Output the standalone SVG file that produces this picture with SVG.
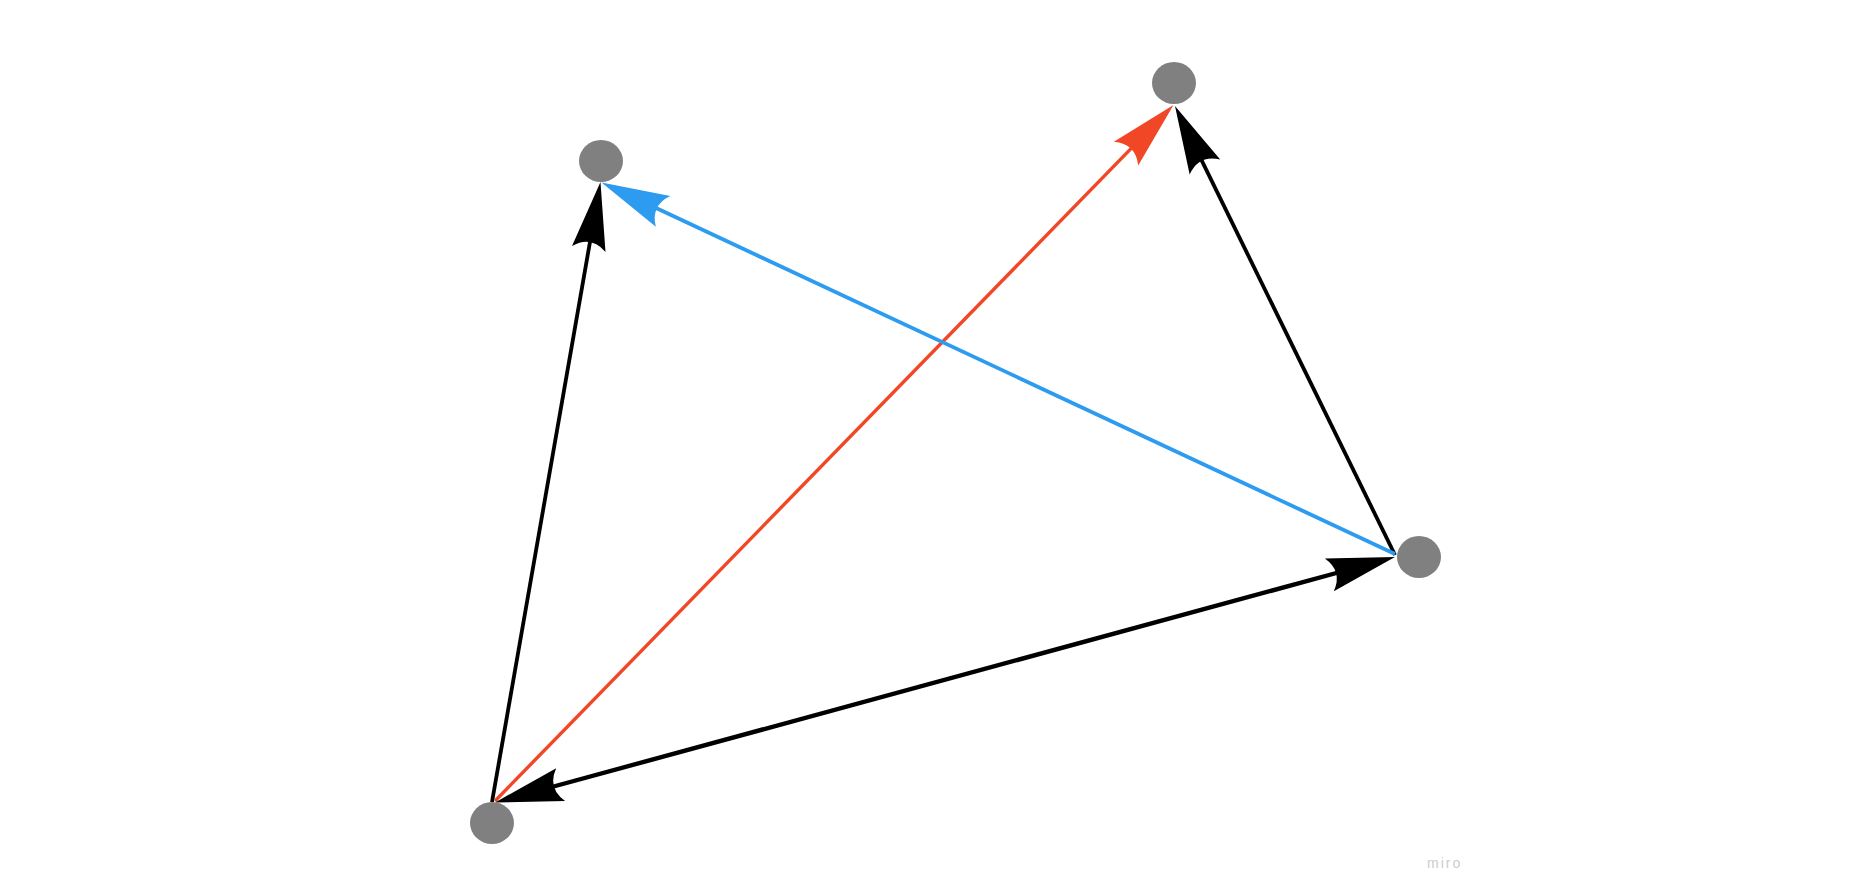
<svg xmlns="http://www.w3.org/2000/svg" width="1860" height="895" viewBox="0 0 1860 895">
<style>
.node{fill:#808080}
.edge{fill:none;stroke-linecap:butt}
.black{stroke:#000;stroke-width:3.8}
.red{stroke:#f24726;stroke-width:3.4}
.blue{stroke:#2d9bf0;stroke-width:3.8}
.wm{font-family:"Liberation Sans",Arial,sans-serif;font-size:14px;letter-spacing:2px;fill:#c9cdd3}
</style>
<defs>
<marker id="ahBlack" markerUnits="userSpaceOnUse" markerWidth="80" markerHeight="40" refX="0" refY="0" orient="auto-start-reverse" overflow="visible">
<path d="M55,0 L-13,-17 Q1,0 -13,17 Z" fill="#000"/>
</marker>
<marker id="ahRed" markerUnits="userSpaceOnUse" markerWidth="80" markerHeight="40" refX="0" refY="0" orient="auto" overflow="visible">
<path d="M55,0 L-13,-17 Q1,0 -13,17 Z" fill="#f24726"/>
</marker>
<marker id="ahBlue" markerUnits="userSpaceOnUse" markerWidth="80" markerHeight="40" refX="0" refY="0" orient="auto" overflow="visible">
<path d="M55,0 L-13,-17 Q1,0 -13,17 Z" fill="#2d9bf0"/>
</marker>
</defs>
<rect width="1860" height="895" fill="#fff"/>
<g id="connectors">
<path class="edge black" d="M492,802 L591.0,236.2" marker-end="url(#ahBlack)"/>
<path class="edge red" d="M495,801 L1135.1,144.4" marker-end="url(#ahRed)"/>
<path class="edge black" d="M1395,555 L1199.2,155.4" marker-end="url(#ahBlack)"/>
<path class="edge blue" d="M1395,554 L651.3,205.8" marker-end="url(#ahBlue)"/>
<path class="edge black" style="stroke-width:4.4" d="M548.1,788.0 L1341.9,571.5" marker-start="url(#ahBlack)" marker-end="url(#ahBlack)"/>
</g>
<g id="node-a"><ellipse class="node" cx="492" cy="823" rx="22" ry="21"/></g>
<g id="node-b"><ellipse class="node" cx="601" cy="161" rx="22" ry="21"/></g>
<g id="node-c"><ellipse class="node" cx="1174" cy="83" rx="22" ry="21"/></g>
<g id="node-d"><ellipse class="node" cx="1419" cy="557" rx="22" ry="21"/></g>
<text class="wm" x="1427" y="868">miro</text>
</svg>
